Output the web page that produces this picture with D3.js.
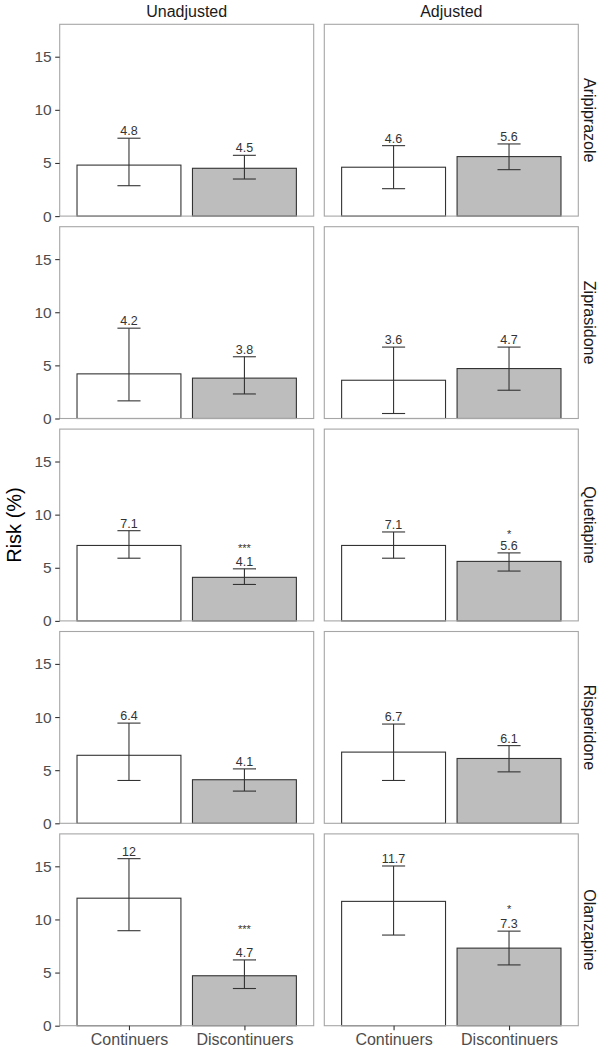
<!DOCTYPE html>
<html>
<head>
<meta charset="utf-8">
<script src="https://cdn.jsdelivr.net/npm/d3@7"></script>
<style>
  html, body { margin: 0; padding: 0; background: #fff; }
  svg { display: block; font-family: "Liberation Sans", Arial, sans-serif; }
</style>
</head>
<body>
<svg id="chart" width="602" height="1050"></svg>
<script>
// ---------------- data ----------------
const drugs  = ["Aripiprazole", "Ziprasidone", "Quetiapine", "Risperidone", "Olanzapine"];
const models = ["Unadjusted", "Adjusted"];
const groups = ["Continuers", "Discontinuers"];
const yTicks = [0, 5, 10, 15];

// Unadjusted
const unadjCont   = [4.8, 4.2, 7.1, 6.4, 12];
const unadjContLo = [2.86, 1.66, 5.9, 4.03, 8.94];
const unadjContHi = [7.33, 8.5, 8.49, 9.43, 15.72];
const unadjDisc   = [4.5, 3.8, 4.1, 4.1, 4.7];
const unadjDiscLo = [3.49, 2.31, 3.43, 3.03, 3.5];
const unadjDiscHi = [5.72, 5.81, 4.9, 5.12, 6.19];
const unadjStars  = ["", "", "***", "", "***"];
const unadjStarAt = [null, null, 7.1, null, 9.3];

// Adjusted
const adjCont   = [4.6, 3.6, 7.1, 6.7, 11.7];
const adjContLo = [2.58, 0.47, 5.9, 4.03, 8.53];
const adjContHi = [6.63, 6.72, 8.37, 9.34, 15.03];
const adjDisc   = [5.6, 4.7, 5.6, 6.1, 7.3];
const adjDiscLo = [4.37, 2.66, 4.69, 4.84, 5.72];
const adjDiscHi = [6.79, 6.72, 6.4, 7.31, 8.9];
const adjStars  = ["", "", "*", "", "*"];
const adjStarAt = [null, null, 8.4, null, 11.25];

const yMax = 18.05;

// build records
const rows = [];
drugs.forEach((drug, i) => {
  rows.push({drug, model: "Unadjusted", group: "Continuers",    v: unadjCont[i], lo: unadjContLo[i], hi: unadjContHi[i], star: "", starAt: null});
  rows.push({drug, model: "Unadjusted", group: "Discontinuers", v: unadjDisc[i], lo: unadjDiscLo[i], hi: unadjDiscHi[i], star: unadjStars[i], starAt: unadjStarAt[i]});
  rows.push({drug, model: "Adjusted",   group: "Continuers",    v: adjCont[i],   lo: adjContLo[i],   hi: adjContHi[i],   star: "", starAt: null});
  rows.push({drug, model: "Adjusted",   group: "Discontinuers", v: adjDisc[i],   lo: adjDiscLo[i],   hi: adjDiscHi[i],   star: adjStars[i], starAt: adjStarAt[i]});
});

// ---------------- layout ----------------
const svg = d3.select("#chart");
const left0 = 59.7, top0 = 24.3;
const panelW = 254, panelH = 191.8, gap = 10.6;

const colPos = m => left0 + models.indexOf(m) * (panelW + gap);
const rowPos = d => top0 + drugs.indexOf(d) * (panelH + gap);

// x inside panel: discrete with 0.6 expansion
const x = d3.scaleLinear().domain([0.4, 2.6]).range([0, panelW]);
const barW = x(0.9) - x(0);
const capW = x(0.2) - x(0);
const y = d3.scaleLinear().domain([0, yMax]).range([panelH, 0]);

const fillCol = {"Continuers": "#ffffff", "Discontinuers": "#bdbdbd"};

models.forEach(m => {
  drugs.forEach(dr => {
    const g = svg.append("g").attr("transform", `translate(${colPos(m)},${rowPos(dr)})`);
    const recs = rows.filter(r => r.model === m && r.drug === dr);
    const cx = d => x(groups.indexOf(d.group) + 1);

    // bars
    g.selectAll("rect.bar").data(recs).join("rect")
      .attr("class", "bar")
      .attr("x", d => cx(d) - barW / 2)
      .attr("y", d => y(d.v))
      .attr("width", barW)
      .attr("height", d => y(0) - y(d.v))
      .attr("fill", d => fillCol[d.group])
      .attr("stroke", "#333")
      .attr("stroke-width", 1.1);

    // error bars
    const eb = g.selectAll("g.eb").data(recs).join("g").attr("class", "eb")
      .attr("stroke", "#333").attr("stroke-width", 1.1);
    eb.append("line")
      .attr("x1", cx).attr("x2", cx)
      .attr("y1", d => y(d.lo)).attr("y2", d => y(d.hi));
    eb.append("line")
      .attr("x1", d => cx(d) - capW / 2).attr("x2", d => cx(d) + capW / 2)
      .attr("y1", d => y(d.lo)).attr("y2", d => y(d.lo));
    eb.append("line")
      .attr("x1", d => cx(d) - capW / 2).attr("x2", d => cx(d) + capW / 2)
      .attr("y1", d => y(d.hi)).attr("y2", d => y(d.hi));

    // value labels
    g.selectAll("text.val").data(recs).join("text")
      .attr("class", "val")
      .attr("x", cx)
      .attr("y", d => y(d.hi) - 3)
      .attr("text-anchor", "middle")
      .attr("font-size", 12.5)
      .attr("fill", "#333")
      .text(d => String(d.v));

    // significance stars
    g.selectAll("text.star").data(recs.filter(d => d.star)).join("text")
      .attr("class", "star")
      .attr("x", cx)
      .attr("y", d => y(d.starAt) + 6.5)
      .attr("text-anchor", "middle")
      .attr("font-size", 11)
      .attr("fill", "#333")
      .text(d => d.star);

    // panel border
    g.append("rect")
      .attr("x", 0).attr("y", 0).attr("width", panelW).attr("height", panelH)
      .attr("fill", "none").attr("stroke", "#a6a6a6").attr("stroke-width", 1.1);

    // y axis on left column
    if (m === models[0]) {
      const ya = g.append("g").call(d3.axisLeft(y).tickValues(yTicks).tickSize(4.5).tickPadding(3.5));
      ya.select(".domain").remove();
      ya.selectAll(".tick line").attr("stroke", "#333").attr("stroke-width", 1.1);
      ya.selectAll(".tick text").attr("font-size", 15.5).attr("fill", "#4d4d4d")
        .attr("font-family", "Liberation Sans, Arial, sans-serif");
    }
    // x axis on bottom row
    if (dr === drugs[drugs.length - 1]) {
      const xs = d3.scaleOrdinal().domain(groups).range([x(1), x(2)]);
      const xa = g.append("g").attr("transform", `translate(0,${panelH})`)
        .call(d3.axisBottom(xs).tickSize(4.5).tickPadding(3));
      xa.select(".domain").remove();
      xa.selectAll(".tick line").attr("stroke", "#333").attr("stroke-width", 1.1);
      xa.selectAll(".tick text").attr("font-size", 16).attr("fill", "#4d4d4d")
        .attr("font-family", "Liberation Sans, Arial, sans-serif");
    }
  });
});

// column strips
svg.selectAll("text.colstrip").data(models).join("text")
  .attr("class", "colstrip")
  .attr("x", m => colPos(m) + panelW / 2)
  .attr("y", 16.5)
  .attr("text-anchor", "middle")
  .attr("font-size", 16)
  .attr("fill", "#1a1a1a")
  .text(m => m);

// row strips
svg.selectAll("text.rowstrip").data(drugs).join("text")
  .attr("class", "rowstrip")
  .attr("transform", d => `translate(${colPos(models[1]) + panelW + 5.5},${rowPos(d) + panelH / 2}) rotate(90)`)
  .attr("text-anchor", "middle")
  .attr("font-size", 16)
  .attr("fill", "#1a1a1a")
  .text(d => d);

// y axis title
svg.append("text")
  .attr("transform", `translate(20.5,${top0 + (drugs.length * panelH + (drugs.length - 1) * gap) / 2}) rotate(-90)`)
  .attr("text-anchor", "middle")
  .attr("font-size", 20)
  .attr("fill", "#000")
  .text("Risk (%)");
</script>
</body>
</html>
